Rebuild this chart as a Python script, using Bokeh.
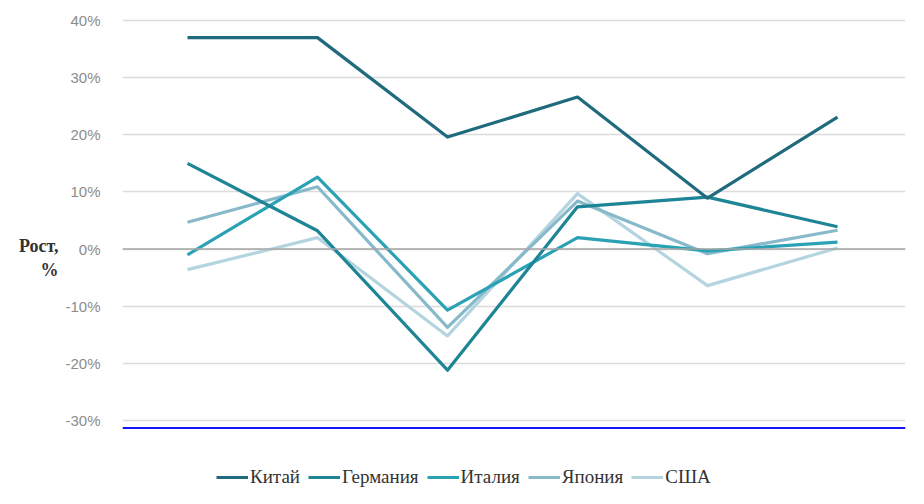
from bokeh.plotting import figure
from bokeh.models import (Range1d, FixedTicker, PrintfTickFormatter, Span,
                          Legend, LegendItem)
from bokeh.embed import file_html
from bokeh.resources import INLINE

# ---- data (growth, %) ----
periods = [1, 2, 3, 4, 5, 6]
series_names = ["Китай", "Германия", "Италия", "Япония", "США"]
china = [37.0, 37.0, 19.6, 26.6, 8.9, 23.1]
germany = [15.0, 3.2, -21.2, 7.4, 9.1, 3.9]
italy = [-1.0, 12.6, -10.7, 2.0, -0.3, 1.2]
japan = [4.7, 10.9, -13.7, 8.4, -0.8, 3.3]
usa = [-3.6, 2.0, -15.2, 9.7, -6.4, 0.2]
y_ticks = [-30, -20, -10, 0, 10, 20, 30, 40]
y_title = "Рост,\n%"

colors = ["#1f6b7d", "#1d8596", "#2aa2b4", "#88b9ca", "#b4d5e0"]
values = [china, germany, italy, japan, usa]

p = figure(width=924, height=504, output_backend="svg", toolbar_location=None,
           x_range=Range1d(0.5, 6.523), y_range=Range1d(-44.7, 41.75),
           min_border_left=122, min_border_right=19, min_border_top=10,
           min_border_bottom=0)
p.outline_line_color = None
p.background_fill_color = "white"
p.border_fill_color = "white"

p.xaxis.visible = False

# y axis
p.yaxis.ticker = FixedTicker(ticks=y_ticks)
p.yaxis.formatter = PrintfTickFormatter(format="%d%%")
p.yaxis.axis_line_color = None
p.yaxis.major_tick_line_color = None
p.yaxis.minor_tick_line_color = None
p.yaxis.major_label_text_color = "#8c8c8c"
p.yaxis.major_label_text_font = "Liberation Sans"
p.yaxis.major_label_text_font_size = "15px"
p.yaxis.major_label_standoff = 16
p.yaxis.axis_label = y_title
p.yaxis.axis_label_orientation = "horizontal"
p.yaxis.axis_label_standoff = 4
p.yaxis.axis_label_text_font = "Liberation Serif"
p.yaxis.axis_label_text_font_style = "bold"
p.yaxis.axis_label_text_font_size = "18px"
p.yaxis.axis_label_text_color = "#333333"

p.xgrid.grid_line_color = None
p.ygrid.ticker = FixedTicker(ticks=y_ticks)
p.ygrid.grid_line_color = "#dcdcdc"
p.ygrid.grid_line_width = 1.3

p.add_layout(Span(location=0, dimension="width", line_color="#a6a6a6", line_width=1.6))
p.add_layout(Span(location=-31.32, dimension="width", line_color="#1414ff", line_width=2))

# lighter series drawn first, darker ones on top
renderers = {}
for name, vals, col in reversed(list(zip(series_names, values, colors))):
    renderers[name] = p.line(periods, vals, line_color=col, line_width=3.2, line_join="round")

legend = Legend(items=[LegendItem(label=n, renderers=[renderers[n]]) for n in series_names],
                orientation="horizontal", location=(94, 16))
legend.label_text_font = "Liberation Serif"
legend.label_text_font_size = "19px"
legend.label_text_color = "#333333"
legend.glyph_width = 32
legend.glyph_height = 16
legend.label_standoff = 2
legend.spacing = 8
legend.padding = 2
legend.margin = 0
legend.border_line_color = None
legend.background_fill_alpha = 0
p.add_layout(legend, "center")

open("out.html", "w").write(file_html(p, INLINE))
